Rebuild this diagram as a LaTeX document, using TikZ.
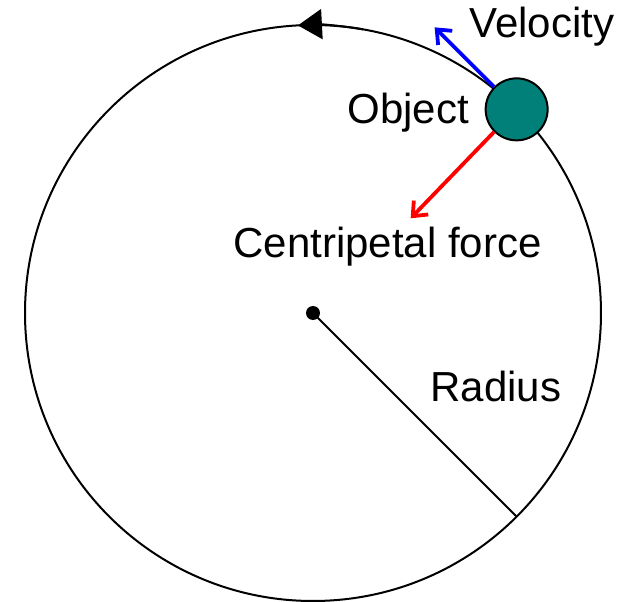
\documentclass[tikz,border=0pt]{standalone}
\usepackage{fontspec}
\setmainfont{Liberation Sans}
\usepackage{xcolor}
\usepackage{tikz}
\usetikzlibrary{positioning, arrows.meta}

\definecolor{objteal}{RGB}{0,128,120}

\tikzset{
  orbit/.style={line width=1pt, black},
  lbl/.style={inner sep=0pt, anchor=base west, font=\fontsize{21}{24}\selectfont},
  vec/.style={line width=1.9pt, -{Straight Barb[length=6pt,width=10pt,line width=1.9pt]}},
}

\begin{document}
\begin{tikzpicture}[x=0.5pt, y=0.5pt]
  \useasboundingbox (0,0) rectangle (629,602);

  % orbit and its direction
  \coordinate (O) at (313,289);
  \draw[orbit] (O) circle[radius=144pt];
  \draw[orbit, -{Triangle[length=12pt,width=15pt]}]
    ([shift={(80:144pt)}]O) arc[start angle=80, end angle=93, radius=144pt];

  % centre and radius
  \node[circle, fill=black, inner sep=0pt, minimum size=7pt] (ctr) at (O) {};
  \coordinate (rim) at ([shift={(-45:144pt)}]O);
  \draw[line width=1pt] (ctr.center) -- (rim);

  % the object on the orbit
  \node[circle, draw=black, line width=1pt, fill=objteal, inner sep=0pt,
        minimum size=31pt] (obj) at ([shift={(45:144pt)}]O) {};
  \coordinate (vtip) at ([shift={(135:42pt)}]obj.135);
  \coordinate (ftip) at ([shift={(226:60pt)}]obj.225);
  \draw[vec, blue] (obj.135) -- (vtip);
  \draw[vec, red] (obj.225) -- (ftip);

  % labels
  \node[lbl] (vlab) at (469,565) {Velocity};
  \node[lbl] (olab) at (347,479) {Object};
  \node[lbl] (flab) at (233,344) {Centripetal force};
  \node[lbl] (rlab) at (430,200) {Radius};
\end{tikzpicture}
\end{document}
